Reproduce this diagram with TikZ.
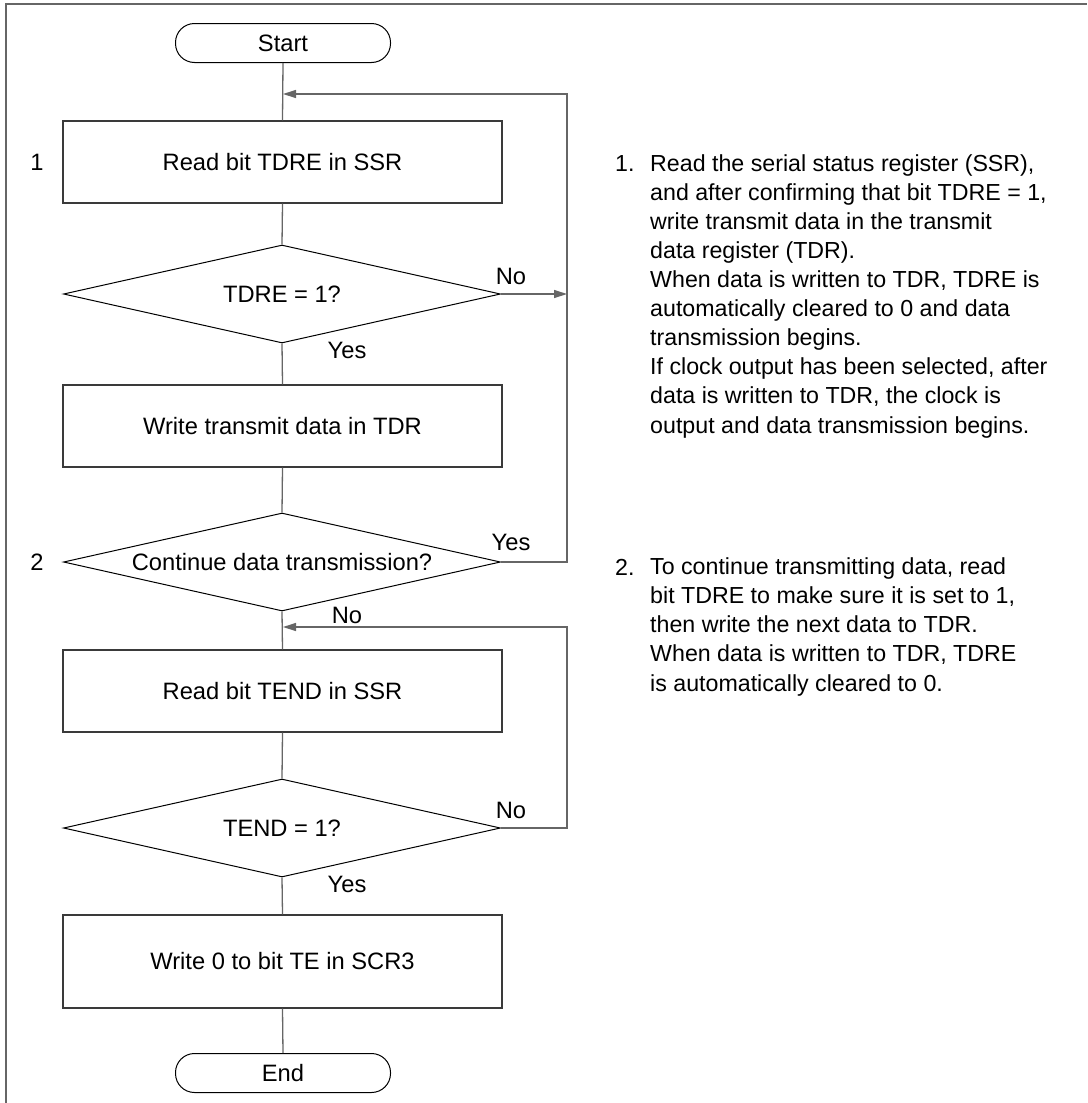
\documentclass[tikz,border=0pt]{standalone}
\usepackage{fontspec}
\setmainfont{Liberation Sans}
\usetikzlibrary{arrows.meta,shapes.geometric}
\definecolor{lgray}{HTML}{666666}
\definecolor{bgray}{HTML}{3A3A3A}
\begin{document}
\begin{tikzpicture}[x=1pt,y=-1pt,
  every node/.style={font=\fontsize{23.7}{29.1}\selectfont},
  term/.style={draw=black,line width=1pt,rounded corners=19pt,minimum width=215pt,minimum height=39pt,inner sep=0pt},
  procbox/.style={draw=bgray,line width=1.3pt,minimum width=439pt,inner sep=0pt},
  decision/.style={diamond,draw=black,line width=1pt,minimum width=437pt,minimum height=98pt,inner sep=0pt,aspect=4.5},
  conn/.style={draw=lgray,line width=1.3pt},
  tip/.style={-{Triangle[length=13pt,width=8pt]}},
  lbl/.style={inner sep=0pt},
  note/.style={inner sep=0pt,font=\fontsize{23.2}{29.1}\selectfont}]
\useasboundingbox (0,0) rectangle (1087,1103);
\draw[conn] (6,1103) -- (6,4) -- (1087,4);

\node[term] (start) at (283,43) {Start};
\node[procbox,minimum height=82pt] (b1) at (282.5,162) {Read bit TDRE in SSR};
\node[decision] (d1) at (282,294) {TDRE = 1?};
\node[procbox,minimum height=82pt] (b2) at (282.5,426) {Write transmit data in TDR};
\node[decision] (d2) at (282,562) {Continue data transmission?};
\node[procbox,minimum height=82pt] (b3) at (282.5,691) {Read bit TEND in SSR};
\node[decision] (d3) at (282,828) {TEND = 1?};
\node[procbox,minimum height=93pt] (b4) at (282.5,961.5) {Write 0 to bit TE in SCR3};
\node[term] (end) at (283,1073) {End};

\node[lbl] (n1) at (37,162) {1};
\node[lbl] (n2) at (37,562) {2};

\coordinate (j1) at (283,94);
\coordinate (j2) at (283,627);
\coordinate (r1) at (567,294);
\coordinate (r2) at (567,562);
\coordinate (r3) at (567,828);

\draw[conn] (start.south) -- (b1.north);
\draw[conn] (b1.south) -- (d1.north);
\draw[conn] (d1.south) -- (b2.north);
\draw[conn] (b2.south) -- (d2.north);
\draw[conn] (d2.south) -- (b3.north);
\draw[conn] (b3.south) -- (d3.north);
\draw[conn] (d3.south) -- (b4.north);
\draw[conn] (b4.south) -- (end.north);

\draw[conn,tip] (d1.east) -- (r1);
\draw[conn,tip] (d2.east) -- (r2) -- (567,94) -- (j1);
\draw[conn,tip] (d3.east) -- (r3) -- (567,627) -- (j2);

\node[lbl] (no1) at (511,276) {No};
\node[lbl] (yes1) at (347,350) {Yes};
\node[lbl] (yes2) at (511,542) {Yes};
\node[lbl] (no2) at (347,615) {No};
\node[lbl] (no3) at (511,810) {No};
\node[lbl] (yes3) at (347,884) {Yes};

\node[note,anchor=base west] (t1n) at (615,171) {1.};
\node[note,anchor=base west,align=left] (t1) at (650,433) {Read the serial status register (SSR),\\
and after confirming that bit TDRE = 1,\\
write transmit data in the transmit\\
data register (TDR).\\
When data is written to TDR, TDRE is\\
automatically cleared to 0 and data\\
transmission begins.\\
If clock output has been selected, after\\
data is written to TDR, the clock is\\
output and data transmission begins.};

\node[note,anchor=base west] (t2n) at (615,575) {2.};
\node[note,anchor=base west,align=left] (t2) at (650,691) {To continue transmitting data, read\\
bit TDRE to make sure it is set to 1,\\
then write the next data to TDR.\\
When data is written to TDR, TDRE\\
is automatically cleared to 0.};
\end{tikzpicture}
\end{document}
